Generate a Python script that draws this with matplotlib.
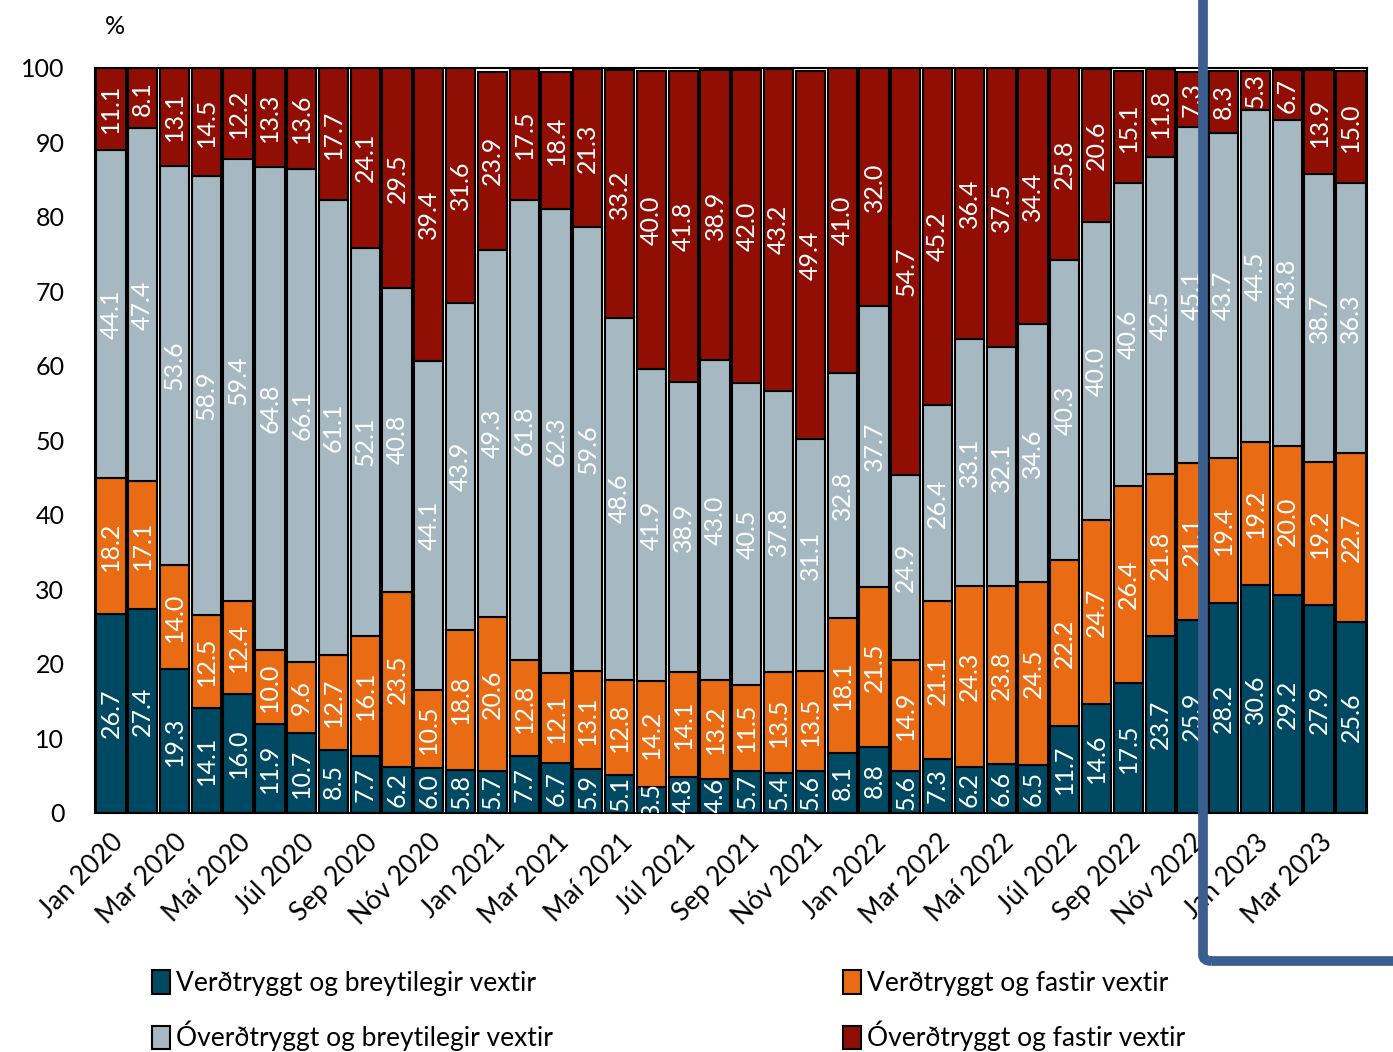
import numpy as np
import matplotlib
matplotlib.use('Agg')
import matplotlib.pyplot as plt
from matplotlib.patches import FancyBboxPatch, Patch

plt.rcParams['font.family'] = ['Lato', 'DejaVu Sans']

# Mánuðir jan 2020 - apr 2023
months = ['Jan', 'Feb', 'Mar', 'Apr', 'Maí', 'Jún', 'Júl', 'Ágú', 'Sep', 'Okt', 'Nóv', 'Des']
periods = [f'{m} {y}' for y in (2020, 2021, 2022) for m in months] + \
          ['Jan 2023', 'Feb 2023', 'Mar 2023', 'Apr 2023']

vt_breytilegir = [26.7, 27.4, 19.3, 14.1, 16.0, 11.9, 10.7, 8.5, 7.7, 6.2, 6.0, 5.8,
                  5.7, 7.7, 6.7, 5.9, 5.1, 3.5, 4.8, 4.6, 5.7, 5.4, 5.6, 8.1,
                  8.8, 5.6, 7.3, 6.2, 6.6, 6.5, 11.7, 14.6, 17.5, 23.7, 25.9, 28.2,
                  30.6, 29.2, 27.9, 25.6]
vt_fastir = [18.2, 17.1, 14.0, 12.5, 12.4, 10.0, 9.6, 12.7, 16.1, 23.5, 10.5, 18.8,
             20.6, 12.8, 12.1, 13.1, 12.8, 14.2, 14.1, 13.2, 11.5, 13.5, 13.5, 18.1,
             21.5, 14.9, 21.1, 24.3, 23.8, 24.5, 22.2, 24.7, 26.4, 21.8, 21.1, 19.4,
             19.2, 20.0, 19.2, 22.7]
ovt_breytilegir = [44.1, 47.4, 53.6, 58.9, 59.4, 64.8, 66.1, 61.1, 52.1, 40.8, 44.1, 43.9,
                   49.3, 61.8, 62.3, 59.6, 48.6, 41.9, 38.9, 43.0, 40.5, 37.8, 31.1, 32.8,
                   37.7, 24.9, 26.4, 33.1, 32.1, 34.6, 40.3, 40.0, 40.6, 42.5, 45.1, 43.7,
                   44.5, 43.8, 38.7, 36.3]
ovt_fastir = [11.1, 8.1, 13.1, 14.5, 12.2, 13.3, 13.6, 17.7, 24.1, 29.5, 39.4, 31.6,
              23.9, 17.5, 18.4, 21.3, 33.2, 40.0, 41.8, 38.9, 42.0, 43.2, 49.4, 41.0,
              32.0, 54.7, 45.2, 36.4, 37.5, 34.4, 25.8, 20.6, 15.1, 11.8, 7.3, 8.3,
              5.3, 6.7, 13.9, 15.0]

series = [
    ('Verðtryggt og breytilegir vextir', vt_breytilegir, '#004962'),
    ('Verðtryggt og fastir vextir', vt_fastir, '#E96B14'),
    ('Óverðtryggt og breytilegir vextir', ovt_breytilegir, '#A6B8C1'),
    ('Óverðtryggt og fastir vextir', ovt_fastir, '#910E05'),
]

fig = plt.figure(figsize=(13.93, 10.52), dpi=100)
ax = fig.add_axes([0.0682, 0.2272, 0.913, 0.7082])

x = np.arange(len(periods))
bottom = np.zeros(len(periods))
handles = []
for name, vals, col in series:
    vals = np.array(vals)
    ax.bar(x, vals, bottom=bottom, width=0.92, color=col,
           edgecolor='black', linewidth=1.5, label=name)
    for xi, b, v in zip(x, bottom, vals):
        ax.text(xi, b + v / 2, f'{v:.1f}', rotation=90, ha='center', va='center',
                color='white', fontsize=18, clip_on=True)
    bottom += vals
    handles.append(Patch(facecolor=col, edgecolor='black', linewidth=1.5, label=name))

ax.set_xlim(-0.5, len(periods) - 0.5)
ax.set_ylim(0, 100)
ax.set_yticks(range(0, 101, 10))
ax.tick_params(axis='y', length=0, labelsize=18, pad=22)
ax.set_xticks(x[::2])
ax.set_xticklabels(periods[::2], rotation=45, ha='right', rotation_mode='anchor',
                   fontsize=19)
ax.tick_params(axis='x', length=0, pad=12)
for s in ax.spines.values():
    s.set_color('black')
    s.set_linewidth(1.5)

fig.text(0.0826, 0.975, '%', fontsize=18, ha='center', va='center')

fig.legend([handles[0], handles[2], handles[1], handles[3]],
           [series[0][0], series[2][0], series[1][0], series[3][0]],
           ncol=2, loc='lower left', bbox_to_anchor=(0.092, -0.022),
           frameon=False, fontsize=19, handlelength=0.7, handleheight=1.0,
           handletextpad=0.2, columnspacing=11.0, labelspacing=0.95)

# Rammi utan um nýjustu mánuðina
box = FancyBboxPatch((1203 / 1393, 1 - 961 / 1052), 0.3, 1.2,
                     boxstyle='round,pad=0,rounding_size=0.006',
                     transform=fig.transFigure, fill=False,
                     edgecolor='#3A5E8E', linewidth=7, clip_on=False, zorder=10)
fig.patches.append(box)

fig.savefig('out.png', dpi=100)
